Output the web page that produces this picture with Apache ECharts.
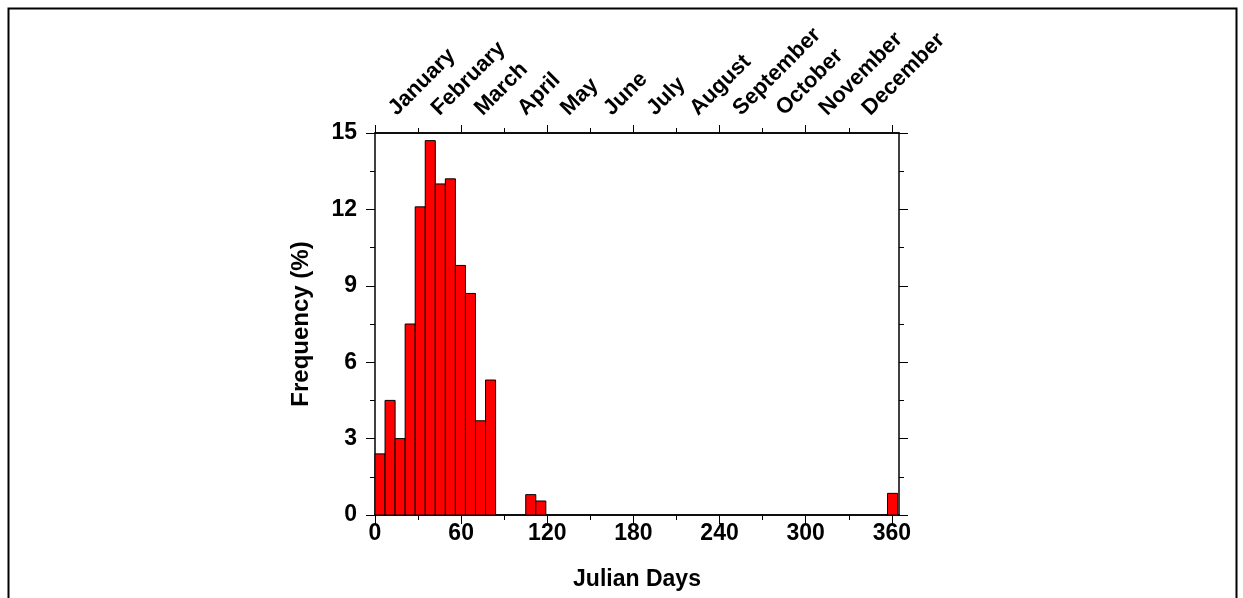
<!DOCTYPE html>
<html>
<head>
<meta charset="utf-8">
<script src="https://cdn.jsdelivr.net/npm/echarts@6/dist/echarts.min.js"></script>
<style>
html,body{margin:0;padding:0;background:#fff;}
#chart{width:1243px;height:598px;}
</style>
</head>
<body>
<div id="chart"></div>
<script>
// ---- data ----
const binStarts = [0, 7, 14, 21, 28, 35, 42, 49, 56, 63, 70, 77, 105, 112, 357];
const binWidth = 7;
const frequency = [2.4, 4.5, 3.0, 7.5, 12.1, 14.7, 13.0, 13.2, 9.8, 8.7, 3.7, 5.3, 0.8, 0.55, 0.85];
const months = ['January','February','March','April','May','June','July','August','September','October','November','December'];
const monthLabelDays = [12, 42, 72, 102, 132, 162, 192, 222, 252, 282, 312, 342];
const xMajorTicks = [0, 60, 120, 180, 240, 300, 360];
const xMinorTicks = [30, 90, 150, 210, 270, 330];

const FONT = '"Liberation Sans", Arial, sans-serif';
const lineStyle = { color: '#000', width: 1.5 };

const seriesData = binStarts.map((s, i) => [s, s + binWidth, frequency[i]]);

function xAxisCfg(pos, ticks, len, labels) {
  return {
    type: 'value', position: pos, min: 0, max: 365,
    axisLine: { show: true, onZero: false, lineStyle: lineStyle },
    axisTick: { show: true, inside: false, length: len, customValues: ticks, lineStyle: { color: '#000', width: 1 } },
    axisLabel: labels || { show: false },
    splitLine: { show: false }
  };
}

const chart = echarts.init(document.getElementById('chart'), null, { renderer: 'canvas' });
const option = {
  animation: false,
  backgroundColor: '#fff',
  grid: { left: 375, top: 133, width: 524, height: 382, containLabel: false },
  xAxis: [
    Object.assign(xAxisCfg('bottom', xMajorTicks, 9, {
      show: true, customValues: xMajorTicks, margin: 7,
      fontFamily: FONT, fontWeight: 'bold', fontSize: 23, color: '#000'
    }), {
      name: 'Julian Days', nameLocation: 'middle', nameGap: 53,
      nameTextStyle: { fontFamily: FONT, fontWeight: 'bold', fontSize: 23, color: '#000' }
    }),
    xAxisCfg('bottom', xMinorTicks, 5),
    xAxisCfg('top', xMajorTicks, 8, {
      show: true, customValues: monthLabelDays, rotate: -45, margin: 21,
      fontFamily: FONT, fontWeight: 'bold', fontSize: 22, color: '#000',
      formatter: function (v) { const i = monthLabelDays.indexOf(v); return i >= 0 ? months[i] : ''; }
    }),
    xAxisCfg('top', xMinorTicks, 5)
  ],
  yAxis: [
    {
      type: 'value', position: 'left', min: 0, max: 15, interval: 3,
      axisLine: { show: true, onZero: false, lineStyle: lineStyle },
      axisTick: { show: true, inside: false, length: 9, lineStyle: { color: '#000', width: 1 } },
      minorTick: { show: true, splitNumber: 2, length: 5, lineStyle: { color: '#000', width: 1 } },
      axisLabel: { margin: 18, fontFamily: FONT, fontWeight: 'bold', fontSize: 23, color: '#000' },
      splitLine: { show: false },
      name: 'Frequency (%)', nameLocation: 'middle', nameGap: 62, nameRotate: 90,
      nameTextStyle: { fontFamily: FONT, fontWeight: 'bold', fontSize: 24, color: '#000' }
    },
    {
      type: 'value', position: 'right', min: 0, max: 15, interval: 3,
      axisLine: { show: true, onZero: false, lineStyle: lineStyle },
      axisTick: { show: true, inside: false, length: 9, lineStyle: { color: '#000', width: 1 } },
      minorTick: { show: true, splitNumber: 2, length: 5, lineStyle: { color: '#000', width: 1 } },
      axisLabel: { show: false },
      splitLine: { show: false }
    }
  ],
  graphic: [{
    type: 'rect', left: 6, top: 6, z: 100, silent: true,
    shape: { width: 1228, height: 620 },
    style: { fill: 'none', stroke: '#000', lineWidth: 2 }
  }],
  series: [{
    type: 'custom', xAxisIndex: 0, yAxisIndex: 0,
    data: seriesData,
    encode: { x: [0, 1], y: 2 },
    renderItem: function (params, api) {
      const p0 = api.coord([api.value(0), 0]);
      const p1 = api.coord([api.value(1), api.value(2)]);
      return {
        type: 'rect',
        shape: { x: p0[0], y: p1[1], width: p1[0] - p0[0], height: p0[1] - p1[1] },
        style: { fill: '#ff0000', stroke: '#000', lineWidth: 1 }
      };
    }
  }]
};
chart.setOption(option);
</script>
</body>
</html>
